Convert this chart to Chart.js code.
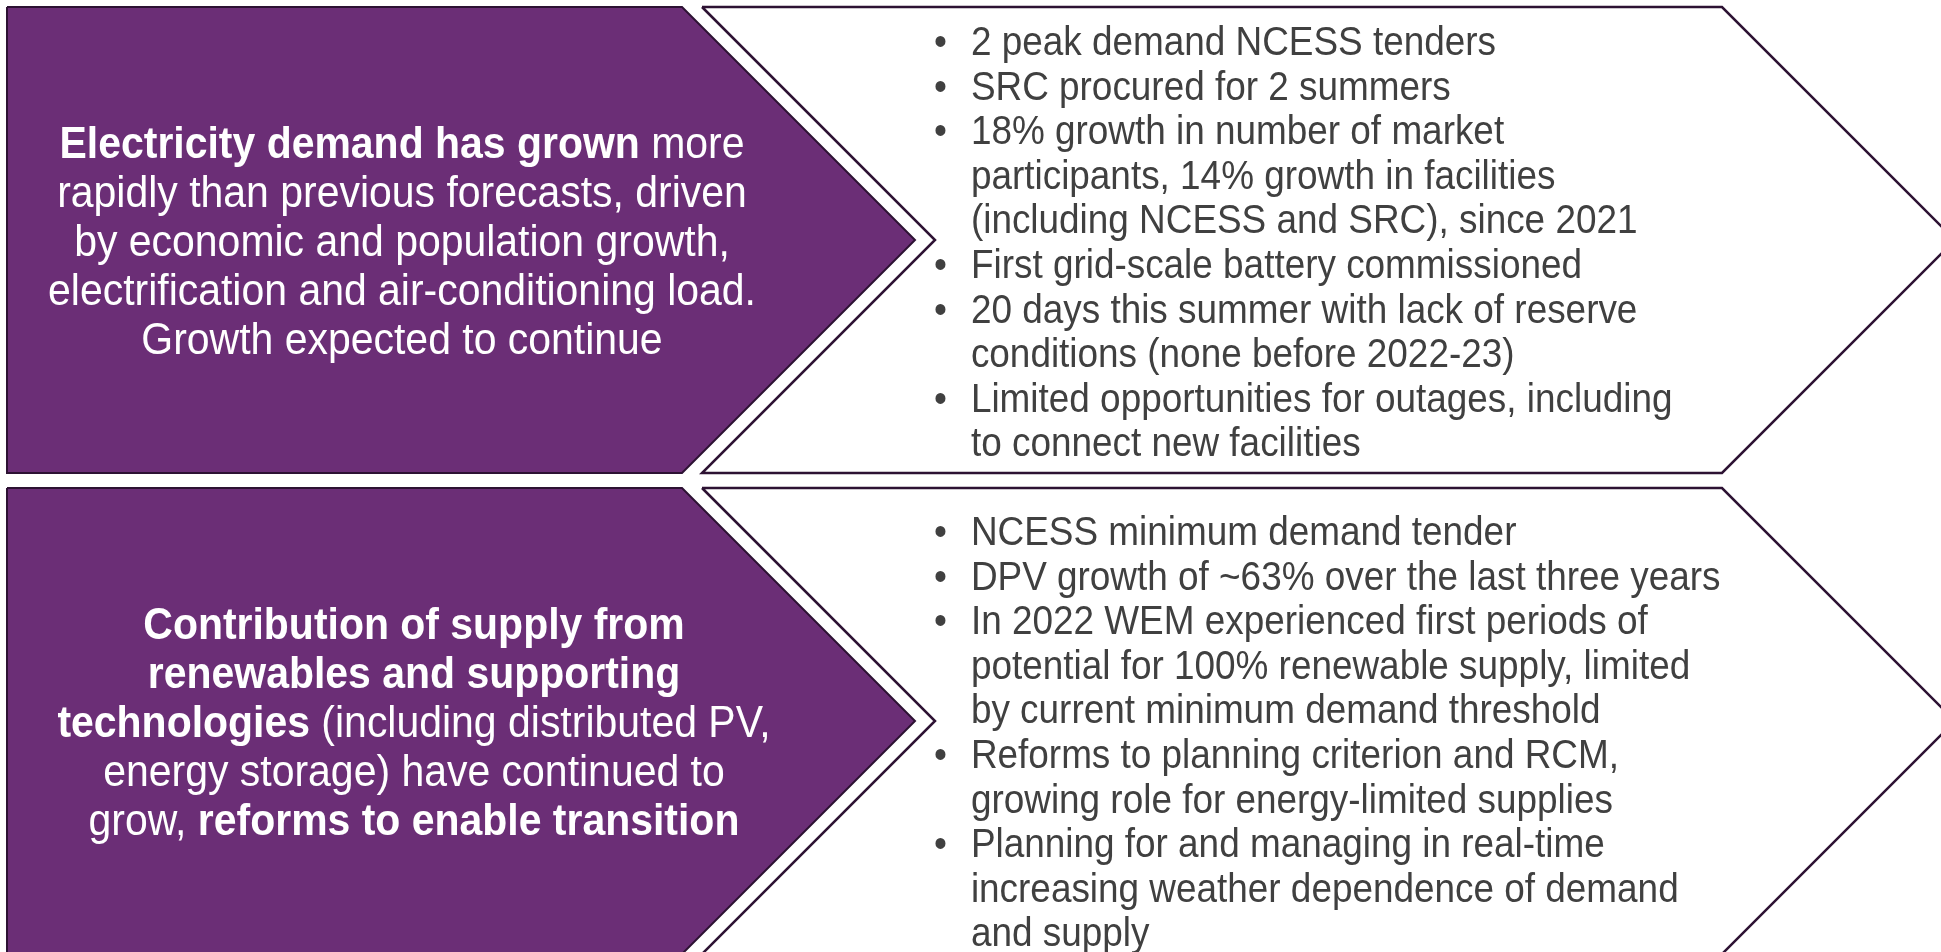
<!DOCTYPE html>
<html lang="en">
<head>
    <meta charset="UTF-8">
    <title>WEM | Demand and transition</title>
    <script src="https://cdn.jsdelivr.net/npm/chart.js"></script>
    <style>
        html, body {
            margin: 0;
            padding: 0;
            background: #ffffff;
            overflow: hidden;
        }

        .slide {
            position: relative;
            width: 1941px;
            height: 952px;
        }

        #shapes {
            position: absolute;
            left: 0;
            top: 0;
        }

        /* the slide text is a narrow-set Arial, so squeeze it sideways */
        .lead {
            position: absolute;
            width: 810px;
            display: flex;
            flex-direction: column;
            justify-content: center;
            color: #ffffff;
            font-family: "Liberation Sans", Arial, sans-serif;
            font-size: 45px;
            line-height: 49px;
            text-align: center;
            white-space: nowrap;
            transform: scaleX(0.91);
            transform-origin: 50% 50%;
        }

        .points {
            position: absolute;
            left: 934px;
            margin: 0;
            padding: 0;
            list-style: none;
            color: #404040;
            font-family: "Liberation Sans", Arial, sans-serif;
            font-size: 41px;
            line-height: 44.6px;
            white-space: nowrap;
            transform: scaleX(0.9);
            transform-origin: 0 0;
        }

        .points li {
            position: relative;
            padding-left: 41px;
        }

        .points li::before {
            content: "\2022";
            position: absolute;
            left: 0;
        }
    </style>
</head>

<body>
    <div class="slide" id="slide">
        <canvas id="shapes" width="1941" height="952"></canvas>
    </div>

    <script>
        // two rows, each: a purple arrow with the headline and a white arrow with the points
        const rowEdgesY = [[7, 240, 473], [488, 721, 954]];   // top, tip, bottom
        const leadArrowX = [7, 682, 915];                      // left, shoulder, tip
        const detailArrowX = [702, 1722, 1955, 935];           // left, shoulder, tip, notch
        const leadCenterX = [402, 414];
        const pointsTop = [19, 509];

        const demandLead = [
            '<b>Electricity demand has grown</b> more',
            'rapidly than previous forecasts, driven',
            'by economic and population growth,',
            'electrification and air-conditioning load.',
            'Growth expected to continue'
        ];
        const demandPoints = [
            ['2 peak demand NCESS tenders'],
            ['SRC procured for 2 summers'],
            ['18% growth in number of market', 'participants, 14% growth in facilities', '(including NCESS and SRC), since 2021'],
            ['First grid-scale battery commissioned'],
            ['20 days this summer with lack of reserve', 'conditions (none before 2022-23)'],
            ['Limited opportunities for outages, including', 'to connect new facilities']
        ];

        const transitionLead = [
            '<b>Contribution of supply from</b>',
            '<b>renewables and supporting</b>',
            '<b>technologies</b> (including distributed PV,',
            'energy storage) have continued to',
            'grow, <b>reforms to enable transition</b>'
        ];
        const transitionPoints = [
            ['NCESS minimum demand tender'],
            ['DPV growth of ~63% over the last three years'],
            ['In 2022 WEM experienced first periods of', 'potential for 100% renewable supply, limited', 'by current minimum demand threshold'],
            ['Reforms to planning criterion and RCM,', 'growing role for energy-limited supplies'],
            ['Planning for and managing in real-time', 'increasing weather dependence of demand', 'and supply']
        ];

        const leads = [demandLead, transitionLead];
        const points = [demandPoints, transitionPoints];

        const purple = '#6b2e76';
        const outline = '#2d1233';

        // build closed outlines for each arrow from the arrays above
        const datasets = [];
        rowEdgesY.forEach(([top, tip, bottom]) => {
            const [l, s, t] = leadArrowX;
            datasets.push({
                data: [{ x: l, y: top }, { x: s, y: top }, { x: t, y: tip }, { x: s, y: bottom }, { x: l, y: bottom }, { x: l, y: top }],
                shapeFill: purple,
                borderColor: outline,
                borderWidth: 2
            });
            const [dl, ds, dt, dn] = detailArrowX;
            datasets.push({
                data: [{ x: dl, y: top }, { x: ds, y: top }, { x: dt, y: tip }, { x: ds, y: bottom }, { x: dl, y: bottom }, { x: dn, y: tip }, { x: dl, y: top }],
                shapeFill: '#ffffff',
                borderColor: outline,
                borderWidth: 2.5
            });
        });

        // fill each outline using the points Chart.js placed on its scales
        const shapeFill = {
            id: 'shapeFill',
            beforeDatasetDraw(chart, args) {
                const ds = chart.data.datasets[args.index];
                const pts = args.meta.data;
                if (!ds.shapeFill || !pts.length) return;
                const ctx = chart.ctx;
                ctx.save();
                ctx.beginPath();
                pts.forEach((p, i) => i ? ctx.lineTo(p.x, p.y) : ctx.moveTo(p.x, p.y));
                ctx.closePath();
                ctx.fillStyle = ds.shapeFill;
                ctx.fill();
                ctx.restore();
            }
        };

        new Chart(document.getElementById('shapes'), {
            type: 'scatter',
            data: { datasets: datasets },
            options: {
                responsive: false,
                animation: false,
                showLine: true,
                clip: false,
                layout: { padding: 0 },
                elements: {
                    point: { radius: 0, hoverRadius: 0 },
                    line: { tension: 0, borderJoinStyle: 'miter' }
                },
                scales: {
                    x: { type: 'linear', min: 0, max: 1941, display: false },
                    y: { type: 'linear', min: 0, max: 952, reverse: true, display: false }
                },
                plugins: {
                    legend: { display: false },
                    tooltip: { enabled: false }
                }
            },
            plugins: [shapeFill]
        });

        // text stays as real text on top of the canvas
        const slide = document.getElementById('slide');
        rowEdgesY.forEach(([top, tip, bottom], r) => {
            const lead = document.createElement('div');
            lead.className = 'lead';
            lead.style.left = (leadCenterX[r] - 405) + 'px';
            lead.style.top = top + 'px';
            lead.style.height = (bottom - top) + 'px';
            lead.innerHTML = leads[r].map(line => `<div>${line}</div>`).join('');
            slide.appendChild(lead);

            const list = document.createElement('ul');
            list.className = 'points';
            list.style.top = pointsTop[r] + 'px';
            list.innerHTML = points[r].map(item => `<li>${item.join('<br>')}</li>`).join('');
            slide.appendChild(list);
        });
    </script>
</body>

</html>
